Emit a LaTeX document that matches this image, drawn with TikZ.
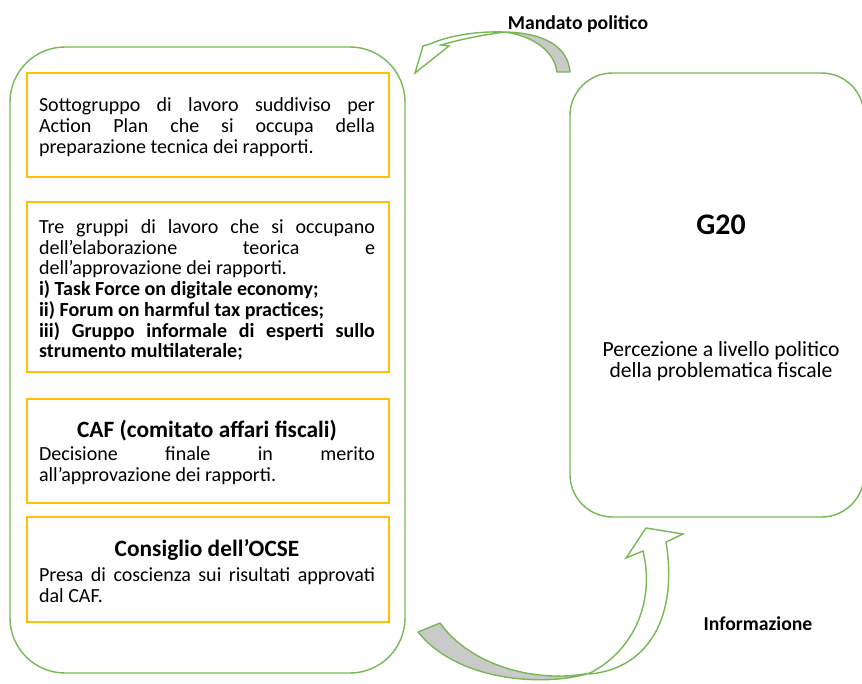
\documentclass[tikz,border=0pt]{standalone}
\usepackage{fontspec}
\setmainfont{Carlito}
\usetikzlibrary{positioning}
\definecolor{ocsegreen}{HTML}{78B854}
\definecolor{ocsegold}{HTML}{FFC000}
\definecolor{bandgray}{HTML}{CACACA}
\tolerance=10000
\setlength{\parindent}{0pt}

\tikzset{
  container/.style={draw=ocsegreen, line width=0.8pt},
  workbox/.style={draw=ocsegold, line width=1.1pt},
  bodytext/.style={text width=6.72cm, align=justify, inner sep=0pt,
    font=\fontsize{11.4}{11.8}\selectfont},
  titletext/.style={anchor=base, inner sep=0pt, font=\fontsize{13.3}{14}\selectfont\bfseries},
  labeltext/.style={anchor=base, inner sep=0pt, font=\fontsize{11.2}{12}\selectfont\bfseries},
  bandback/.style={draw=ocsegreen, fill=bandgray, line width=0.8pt, line join=round},
  bandfront/.style={draw=ocsegreen, fill=white, line width=0.8pt},
}

\begin{document}
\begin{tikzpicture}[x=0.02cm, y=-0.02cm]
            \useasboundingbox (0,0) rectangle (862,683);

            % OCSE side
            \draw[container, rounded corners=1.1cm] (10,47) rectangle (405,673);

            \draw[workbox] (27,73) rectangle (389,177);
            \node[bodytext] (sottogruppo) at (207,127) {Sottogruppo di lavoro suddiviso per\linebreak
              Action Plan che si occupa della\linebreak preparazione tecnica dei rapporti.};

            \draw[workbox] (27,202) rectangle (389,372);
            \node[bodytext] (tregruppi) at (207,290) {Tre gruppi di lavoro che si occupano\linebreak
              dell’elaborazione teorica e\linebreak dell’approvazione dei rapporti.\\
              \textbf{i) Task Force on digitale economy;}\\
              \textbf{ii) Forum on harmful tax practices;}\\
              \textbf{iii) Gruppo informale di esperti sullo\linebreak strumento multilaterale;}};

            \draw[workbox] (27,399) rectangle (389,503);
            \node[titletext] (caftitle) at (207,437) {CAF (comitato affari fiscali)};
            \node[bodytext] (cafbody) at (207,466) {Decisione finale in merito\linebreak
              all’approvazione dei rapporti.};

            \draw[workbox] (27,517) rectangle (389,622);
            \node[titletext] (consigliotitle) at (207,556) {Consiglio dell’OCSE};
            \node[bodytext] (consigliobody) at (207,585) {Presa di coscienza sui risultati approvati\linebreak
              dal CAF.};

            % G20 side
            \draw[container, rounded corners=0.85cm] (570,73) rectangle (864,517);
            \node[anchor=base, inner sep=0pt, font=\fontsize{17}{19}\selectfont\bfseries] (gventi) at (721,234) {G20};
            \node[align=center, inner sep=0pt, font=\fontsize{12.3}{11.9}\selectfont] (percezione) at (721,361)
              {Percezione a livello politico\\della problematica fiscale};

            % Mandato politico
            \draw[bandback] (557,72) -- (570,72) .. controls (568,47) and (545,33) .. (505,32)
              .. controls (532,36) and (554,50) .. (557,72) -- cycle;
            \draw[bandfront] (505,32) .. controls (475,31) and (448,36) .. (430,44) -- (423,46) -- (415,73)
              -- (449,46) -- (441,45) .. controls (462,39) and (482,35) .. (505,32) -- cycle;
            \node[labeltext] (mandato) at (578,29.5) {Mandato politico};

            % Informazione
            \draw[bandfront] (590,674) .. controls (650,668) and (678,615) .. (666,542) -- (683,534) -- (646,528)
              -- (626,558) -- (643,551) .. controls (655,600) and (635,650) .. (590,673) -- cycle;
            \draw[bandback] (418,632) -- (440,623) .. controls (470,665) and (535,684) .. (590,673)
              .. controls (550,686) and (460,684) .. (418,632) -- cycle;
            \node[labeltext] (informazione) at (758,630) {Informazione};
        \end{tikzpicture}
\end{document}
